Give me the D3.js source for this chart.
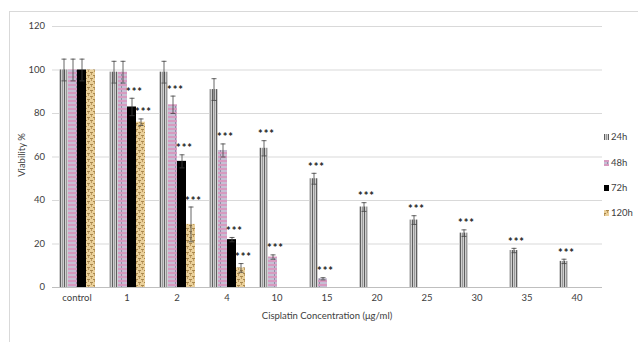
<!DOCTYPE html>
<html>
<head>
<meta charset="utf-8">
<script src="https://cdnjs.cloudflare.com/ajax/libs/d3/7.8.5/d3.min.js"></script>
<style>
  body { margin: 0; background: #fff; }
  text { font-family: Lato, "Liberation Sans", sans-serif; fill: #404040; }
</style>
</head>
<body>
<div id="chart"></div>
<script>
var svgWidth = 638;
var svgHeight = 342;

// data
var categories = ["control", "1", "2", "4", "10", "15", "20", "25", "30", "35", "40"];
var seriesNames = ["24h", "48h", "72h", "120h"];
var yTicks = [0, 20, 40, 60, 80, 100, 120];

var v24 = [100, 99, 99, 91, 64, 50, 37, 31, 25, 17, 12];
var e24 = [5, 5, 5, 5, 3.5, 2.5, 2, 2, 1.5, 1, 1];
var s24 = [0, 0, 0, 0, 1, 1, 1, 1, 1, 1, 1];

var v48 = [100, 99, 84, 63, 14, 4, null, null, null, null, null];
var e48 = [5, 5, 4, 3, 1, 0.5, 0, 0, 0, 0, 0];
var s48 = [0, 0, 1, 1, 1, 1, 0, 0, 0, 0, 0];

var v72 = [100, 83, 58, 22, null, null, null, null, null, null, null];
var e72 = [5, 4, 3, 1, 0, 0, 0, 0, 0, 0, 0];
var s72 = [0, 1, 1, 1, 0, 0, 0, 0, 0, 0, 0];

var v120 = [100, 76, 29, 9, null, null, null, null, null, null, null];
var e120 = [0, 1.5, 8, 2, 0, 0, 0, 0, 0, 0, 0];
var s120 = [0, 1, 1, 1, 0, 0, 0, 0, 0, 0, 0];

var values = [v24, v48, v72, v120];
var errors = [e24, e48, e72, e120];
var stars = [s24, s48, s72, s120];

var svg = d3.select("#chart").append("svg")
  .attr("width", svgWidth)
  .attr("height", svgHeight);

// fill patterns
var defs = svg.append("defs");

var p24 = defs.append("pattern").attr("id", "p24")
  .attr("patternUnits", "userSpaceOnUse").attr("width", 4).attr("height", 4);
p24.append("rect").attr("width", 4).attr("height", 4).attr("fill", "#cfcfcf");
p24.append("rect").attr("x", 0).attr("width", 1).attr("height", 4).attr("fill", "#5e5e5e");
p24.append("rect").attr("x", 2).attr("width", 1).attr("height", 4).attr("fill", "#9a9a9a");

var p48 = defs.append("pattern").attr("id", "p48")
  .attr("patternUnits", "userSpaceOnUse").attr("width", 9).attr("height", 4);
p48.append("rect").attr("width", 9).attr("height", 4).attr("fill", "#c6bfd4");
p48.append("rect").attr("y", 0).attr("width", 9).attr("height", 2).attr("fill", "#d79ac0");
p48.append("rect").attr("x", 4).attr("y", 2).attr("width", 1).attr("height", 2).attr("fill", "#968ca6");

var p72 = defs.append("pattern").attr("id", "p72")
  .attr("patternUnits", "userSpaceOnUse").attr("width", 4).attr("height", 4);
p72.append("rect").attr("width", 4).attr("height", 4).attr("fill", "#000");

var p120 = defs.append("pattern").attr("id", "p120")
  .attr("patternUnits", "userSpaceOnUse").attr("width", 6).attr("height", 6);
p120.append("rect").attr("width", 6).attr("height", 6).attr("fill", "#ead09a");
p120.append("rect").attr("x", 0).attr("y", 0).attr("width", 3).attr("height", 1).attr("fill", "#a8874c");
p120.append("rect").attr("x", 3).attr("y", 3).attr("width", 3).attr("height", 1).attr("fill", "#a8874c");
p120.append("rect").attr("x", 1).attr("y", 1).attr("width", 1).attr("height", 2).attr("fill", "#bf9c62");
p120.append("rect").attr("x", 4).attr("y", 4).attr("width", 1).attr("height", 2).attr("fill", "#bf9c62");

var fills = ["url(#p24)", "url(#p48)", "url(#p72)", "url(#p120)"];

// outer frame
svg.append("line").attr("x1", 9.5).attr("x2", 9.5).attr("y1", 11).attr("y2", svgHeight).attr("stroke", "#d9d9d9");
svg.append("line").attr("x1", 9).attr("x2", svgWidth).attr("y1", 11.5).attr("y2", 11.5).attr("stroke", "#d9d9d9");

var x = d3.scaleBand().domain(categories).range([52, 602])
  .paddingInner(0.28).paddingOuter(0.14);
var xs = d3.scaleBand().domain(seriesNames).range([0, x.bandwidth()]);
var y = d3.scaleLinear().domain([0, 120]).range([287, 26]);

// grid
svg.append("g").selectAll("line").data(yTicks).enter().append("line")
  .attr("x1", 52).attr("x2", 602)
  .attr("y1", d => y(d) + 0.5).attr("y2", d => y(d) + 0.5)
  .attr("stroke", d => d === 0 ? "#bfbfbf" : "#d9d9d9");

// y axis labels
svg.append("g").selectAll("text").data(yTicks).enter().append("text")
  .attr("x", 45).attr("y", d => y(d)).attr("dy", "0.35em")
  .attr("text-anchor", "end").style("font-size", "9.5px")
  .text(d => d);

// x axis labels
svg.append("g").selectAll("text").data(categories).enter().append("text")
  .attr("x", d => x(d) + x.bandwidth() / 2).attr("y", 298).attr("dy", "0.35em")
  .attr("text-anchor", "middle").style("font-size", "9.5px")
  .text(d => d);

// bars
seriesNames.forEach(function(s, i) {
  var g = svg.append("g");
  var data = categories.map((c, j) => ({c: c, v: values[i][j], e: errors[i][j], s: stars[i][j]}))
    .filter(d => d.v !== null);

  g.selectAll("rect").data(data).enter().append("rect")
    .attr("x", d => x(d.c) + xs(s))
    .attr("y", d => y(d.v))
    .attr("width", xs.bandwidth())
    .attr("height", d => y(0) - y(d.v))
    .attr("fill", fills[i]);

  // error bars
  var eb = g.selectAll("g.err").data(data.filter(d => d.e > 0)).enter().append("g");
  eb.append("line")
    .attr("x1", d => x(d.c) + xs(s) + xs.bandwidth() / 2 + 0.5)
    .attr("x2", d => x(d.c) + xs(s) + xs.bandwidth() / 2 + 0.5)
    .attr("y1", d => y(d.v - d.e)).attr("y2", d => y(d.v + d.e))
    .attr("stroke", "#404040").attr("stroke-width", 0.8);
  [1, -1].forEach(function(sign) {
    eb.append("line")
      .attr("x1", d => x(d.c) + xs(s) + xs.bandwidth() / 2 - 2)
      .attr("x2", d => x(d.c) + xs(s) + xs.bandwidth() / 2 + 3)
      .attr("y1", d => y(d.v + sign * d.e) + 0.5).attr("y2", d => y(d.v + sign * d.e) + 0.5)
      .attr("stroke", "#404040").attr("stroke-width", 0.8);
  });

  // significance
  g.selectAll("text").data(data.filter(d => d.s)).enter().append("text")
    .attr("x", d => x(d.c) + xs(s) + xs.bandwidth() / 2 + 3)
    .attr("y", d => y(d.v + d.e) - 2)
    .attr("text-anchor", "middle")
    .style("font-size", "11px").style("font-weight", "bold").style("fill", "#222")
    .style("letter-spacing", "1px")
    .text("***");
});

// legend
var legend = svg.append("g");
var legendY = [137, 163, 188, 213];
seriesNames.forEach(function(s, i) {
  legend.append("rect").attr("x", 604).attr("y", legendY[i] - 3).attr("width", 5).attr("height", 6)
    .attr("fill", fills[i]);
  legend.append("text").attr("x", 611).attr("y", legendY[i]).attr("dy", "0.35em")
    .style("font-size", "9.5px").text(s);
});

// axis titles
svg.append("text").attr("x", 327).attr("y", 316).attr("dy", "0.35em")
  .attr("text-anchor", "middle").style("font-size", "9.5px")
  .text("Cisplatin Concentration (μg/ml)");

svg.append("text").attr("transform", "translate(22,155) rotate(-90)")
  .attr("dy", "0.35em").attr("text-anchor", "middle").style("font-size", "9.5px")
  .text("Viability %");
</script>
</body>
</html>
